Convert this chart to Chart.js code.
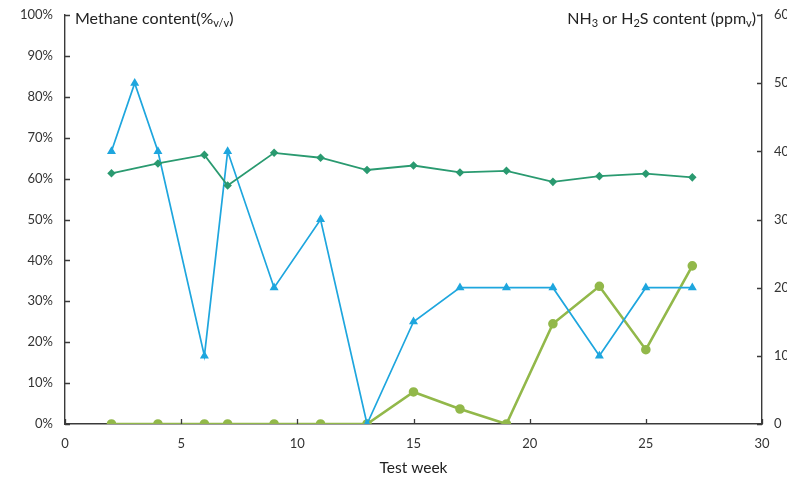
<!DOCTYPE html>
<html>
<head>
<meta charset="utf-8">
<script src="https://cdn.jsdelivr.net/npm/chart.js@4/dist/chart.umd.min.js"></script>
<style>
  html, body { margin: 0; padding: 0; background: #fff; overflow: hidden; width: 787px; height: 477px; }
  #wrap { position: relative; width: 812px; height: 477px; }
</style>
</head>
<body>
<div id="wrap"><canvas id="c" width="812" height="477"></canvas></div>
<script>
// Sampling weeks and measured contents
const weeksMethane = [2, 4, 6, 7, 9, 11, 13, 15, 17, 19, 21, 23, 25, 27];
const methanePct   = [61.3, 63.7, 65.8, 58.3, 66.3, 65.1, 62.1, 63.2, 61.5, 61.9, 59.2, 60.6, 61.2, 60.3];

const weeksNH3 = [2, 3, 4, 6, 7, 9, 11, 13, 15, 17, 19, 21, 23, 25, 27];
const nh3Ppm   = [40, 50, 40, 10, 40, 20, 30, 0, 15, 20, 20, 20, 10, 20, 20];

const weeksH2S = [2, 4, 6, 7, 9, 11, 13, 15, 17, 19, 21, 23, 25, 27];
const h2sPpm   = [0, 0, 0, 0, 0, 0, 0, 4.7, 2.2, 0, 14.7, 20.2, 10.9, 23.2];

const xTicks = [0, 5, 10, 15, 20, 25, 30];

const FONT = 'Lato, "Open Sans", sans-serif';
const AXIS = '#3a3a3a';
const TEXT = '#333333';

const pts = (xs, ys) => xs.map((x, i) => ({ x: x, y: ys[i] }));

// Tick marks drawn on the inner side of each axis line
const innerTicks = {
  id: 'innerTicks',
  afterDraw(chart) {
    const ctx = chart.ctx;
    const a = chart.chartArea;
    ctx.save();
    ctx.strokeStyle = AXIS;
    ctx.lineWidth = 1.3;
    const len = 5;
    const sx = chart.scales.x, sy = chart.scales.y, sy1 = chart.scales.y1;
    ctx.beginPath();
    sx.ticks.forEach(t => {
      const px = Math.round(sx.getPixelForValue(t.value)) + 0.5;
      ctx.moveTo(px, a.bottom); ctx.lineTo(px, a.bottom - len);
    });
    sy.ticks.forEach(t => {
      const py = Math.round(sy.getPixelForValue(t.value)) + 0.5;
      ctx.moveTo(a.left, py); ctx.lineTo(a.left + len, py);
    });
    sy1.ticks.forEach(t => {
      const py = Math.round(sy1.getPixelForValue(t.value)) + 0.5;
      ctx.moveTo(a.right, py); ctx.lineTo(a.right - len, py);
    });
    ctx.stroke();
    ctx.restore();
  }
};

// Axis captions with subscripts, placed inside the top of the plot
const MAIN_PX = 16, SUB_PX = 11;
function drawRuns(ctx, runs, x, y) {
  let cx = x;
  runs.forEach(r => {
    ctx.font = (r.sub ? SUB_PX : MAIN_PX) + 'px ' + FONT;
    ctx.fillText(r.t, cx, r.sub ? y + 3 : y);
    cx += ctx.measureText(r.t).width;
  });
}
function runsWidth(ctx, runs) {
  let w = 0;
  runs.forEach(r => {
    ctx.font = (r.sub ? SUB_PX : MAIN_PX) + 'px ' + FONT;
    w += ctx.measureText(r.t).width;
  });
  return w;
}
const axisCaptions = {
  id: 'axisCaptions',
  afterDraw(chart) {
    const ctx = chart.ctx;
    const a = chart.chartArea;
    ctx.save();
    ctx.fillStyle = '#222';
    ctx.textBaseline = 'alphabetic';
    ctx.textAlign = 'left';
    const left = [{ t: 'Methane content(%' }, { t: 'v/v', sub: true }, { t: ')' }];
    drawRuns(ctx, left, a.left + 10, a.top + 9);
    const right = [{ t: 'NH' }, { t: '3', sub: true }, { t: ' or H' }, { t: '2', sub: true },
                   { t: 'S content (ppm' }, { t: 'v', sub: true }, { t: ')' }];
    const w = runsWidth(ctx, right);
    drawRuns(ctx, right, a.right - 6 - w, a.top + 9);
    ctx.restore();
  }
};

// Vertical axes: fixed widths and small end padding so the plot spans the full height
const fitVertical = width => s => { s.width = width; s.paddingTop = 4; s.paddingBottom = 4; };

new Chart(document.getElementById('c'), {
  type: 'scatter',
  data: {
    datasets: [
      {
        label: 'Methane',
        data: pts(weeksMethane, methanePct),
        yAxisID: 'y',
        showLine: true,
        borderColor: '#2a9a70',
        backgroundColor: '#2a9a70',
        borderWidth: 1.8,
        pointStyle: 'rectRot',
        pointRadius: 3,
        pointHoverRadius: 3
      },
      {
        label: 'NH3',
        data: pts(weeksNH3, nh3Ppm),
        yAxisID: 'y1',
        showLine: true,
        borderColor: '#1ea6de',
        backgroundColor: '#1ea6de',
        borderWidth: 1.7,
        pointStyle: 'triangle',
        pointRadius: 3.5,
        pointHoverRadius: 3.5
      },
      {
        label: 'H2S',
        data: pts(weeksH2S, h2sPpm),
        yAxisID: 'y1',
        showLine: true,
        borderColor: '#92b84a',
        backgroundColor: '#92b84a',
        borderWidth: 2.6,
        pointStyle: 'circle',
        pointRadius: 3.5,
        pointHoverRadius: 3.5
      }
    ]
  },
  options: {
    responsive: false,
    animation: false,
    layout: { padding: { top: 15, left: 0, right: 0, bottom: 0 } },
    plugins: { legend: { display: false }, tooltip: { enabled: false } },
    scales: {
      x: {
        type: 'linear',
        min: 0, max: 30,
        afterBuildTicks: s => { s.ticks = xTicks.map(v => ({ value: v })); },
        afterFit: s => { s.height = 53; },
        grid: { display: false, drawTicks: false },
        border: { display: true, color: AXIS, width: 1.4 },
        ticks: { color: TEXT, font: { family: FONT, size: 13 }, padding: 12, maxRotation: 0 },
        title: { display: true, text: 'Test week', color: '#222', font: { family: FONT, size: 15.5 }, padding: { top: 4, bottom: 0 } }
      },
      y: {
        position: 'left',
        min: 0, max: 100,
        afterFit: fitVertical(65),
        grid: { display: false, drawTicks: false },
        border: { display: true, color: AXIS, width: 1.4 },
        ticks: { stepSize: 10, color: TEXT, font: { family: FONT, size: 13 }, padding: 12, callback: v => v + '%' }
      },
      y1: {
        position: 'right',
        min: 0, max: 60,
        afterFit: fitVertical(50),
        grid: { display: false, drawTicks: false },
        border: { display: true, color: AXIS, width: 1.4 },
        ticks: { stepSize: 10, color: TEXT, font: { family: FONT, size: 13 }, padding: 12 }
      }
    }
  },
  plugins: [innerTicks, axisCaptions]
});
</script>
</body>
</html>
